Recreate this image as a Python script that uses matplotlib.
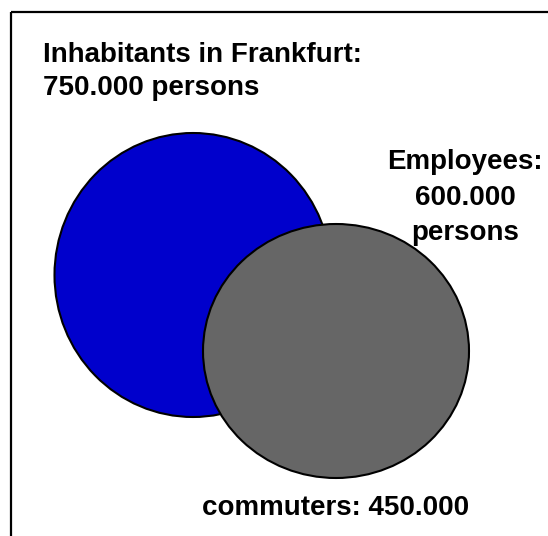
import matplotlib.pyplot as plt
from matplotlib.patches import Ellipse

plt.rcParams['font.family'] = ['Liberation Sans', 'DejaVu Sans']

# data
groups = ['Inhabitants in Frankfurt', 'Employees', 'commuters']
persons = [750000, 600000, 450000]


def fmt(v):
    # german style thousands separator
    return '{:,}'.format(v).replace(',', '.')


fig = plt.figure(figsize=(5.48, 5.36), dpi=100)
ax = fig.add_axes([0, 0, 1, 1])
ax.set_xlim(0, 548)
ax.set_ylim(536, 0)
ax.axis('off')

# frame (only top and left are visible in the crop)
ax.plot([11, 560], [12, 12], color='black', lw=1.6, solid_capstyle='butt')
ax.plot([11, 11], [12, 560], color='black', lw=1.6, solid_capstyle='butt')

# circles
ax.add_patch(Ellipse((193, 275), 277, 284, facecolor='#0000CC', edgecolor='black', lw=1.5))
ax.add_patch(Ellipse((336, 351), 266, 254, facecolor='#666666', edgecolor='black', lw=1.5))

# va='baseline' on multi-line text anchors the last line
ax.text(43, 95, '%s:\n%s persons' % (groups[0], fmt(persons[0])),
        fontsize=20, fontweight='bold', ha='left', va='baseline', linespacing=1.34)
ax.text(465, 240, '%s:\n%s\npersons' % (groups[1], fmt(persons[1])),
        fontsize=20, fontweight='bold', ha='center', va='baseline', multialignment='center',
        linespacing=1.47)
ax.text(336, 515, '%s: %s' % (groups[2], fmt(persons[2])),
        fontsize=20, fontweight='bold', ha='center', va='baseline')

fig.savefig('out.png', dpi=100)
